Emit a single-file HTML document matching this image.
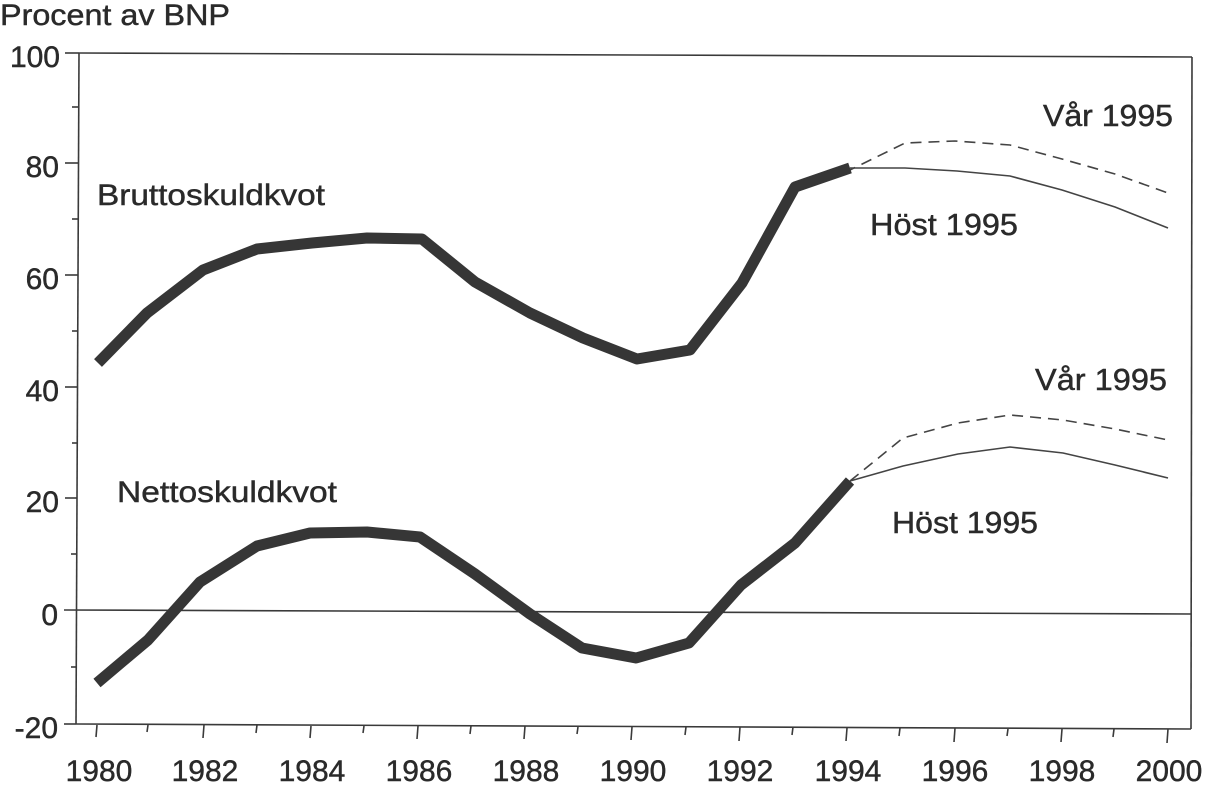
<!DOCTYPE html>
<html>
<head>
<meta charset="utf-8">
<style>
  html,body{margin:0;padding:0;background:#fff;}
  svg{display:block;}
  text{font-family:"Liberation Sans",Arial,sans-serif;fill:#2a2a2a;stroke:#2a2a2a;stroke-width:0.45;}
</style>
</head>
<body>
<svg width="1205" height="786" viewBox="0 0 1205 786" xmlns="http://www.w3.org/2000/svg">
  <rect width="1205" height="786" fill="#fff"/>
  <!-- title -->
  <text x="0" y="25" font-size="30" textLength="230" lengthAdjust="spacingAndGlyphs">Procent av BNP</text>

  <!-- frame -->
  <g stroke="#3a3a3a" stroke-width="1.6" fill="none">
    <line x1="79" y1="53" x2="1192" y2="57"/>
    <line x1="1192" y1="57" x2="1191" y2="729"/>
    <line x1="76" y1="724" x2="1191" y2="729"/>
    <line x1="79" y1="53" x2="76" y2="724"/>
    <!-- zero line -->
    <line x1="64" y1="610" x2="1191" y2="614"/>
    <!-- y major ticks -->
    <line x1="65" y1="53" x2="79" y2="53"/>
    <line x1="65" y1="163" x2="79" y2="163"/>
    <line x1="65" y1="275" x2="78" y2="275"/>
    <line x1="65" y1="387" x2="78" y2="387"/>
    <line x1="65" y1="498" x2="77" y2="498"/>
    <line x1="64" y1="724" x2="76" y2="724"/>
    <!-- y minor ticks -->
    <line x1="72" y1="107" x2="79" y2="107"/>
    <line x1="72" y1="219" x2="78" y2="219"/>
    <line x1="72" y1="331" x2="78" y2="331"/>
    <line x1="72" y1="443" x2="78" y2="443"/>
    <line x1="71" y1="554" x2="77" y2="554"/>
    <line x1="71" y1="667" x2="77" y2="667"/>
    <!-- x major ticks -->
    <line x1="97" y1="725" x2="96" y2="737"/>
    <line x1="204" y1="725" x2="203" y2="738"/>
    <line x1="311" y1="726" x2="310" y2="738"/>
    <line x1="418" y1="726" x2="417" y2="739"/>
    <line x1="525" y1="726" x2="524" y2="739"/>
    <line x1="632" y1="727" x2="631" y2="740"/>
    <line x1="740" y1="727" x2="739" y2="741"/>
    <line x1="847" y1="728" x2="846" y2="741"/>
    <line x1="955" y1="728" x2="954" y2="742"/>
    <line x1="1062" y1="729" x2="1061" y2="742"/>
    <line x1="1168" y1="729" x2="1167" y2="743"/>
    <!-- x minor ticks -->
    <line x1="148" y1="725" x2="147" y2="732"/>
    <line x1="257" y1="725" x2="256" y2="733"/>
    <line x1="364" y1="726" x2="363" y2="733"/>
    <line x1="471" y1="726" x2="470" y2="734"/>
    <line x1="578" y1="727" x2="577" y2="734"/>
    <line x1="686" y1="727" x2="685" y2="735"/>
    <line x1="793" y1="727" x2="792" y2="735"/>
    <line x1="900" y1="728" x2="899" y2="736"/>
    <line x1="1008" y1="729" x2="1007" y2="736"/>
    <line x1="1114" y1="729" x2="1113" y2="737"/>
  </g>

  <!-- y labels -->
  <g font-size="30" text-anchor="end">
    <text x="60" y="67">100</text>
    <text x="59" y="177">80</text>
    <text x="59" y="289">60</text>
    <text x="59" y="401">40</text>
    <text x="59" y="512">20</text>
    <text x="58" y="625">0</text>
    <text x="58" y="738">-20</text>
  </g>

  <!-- x labels -->
  <g font-size="30" text-anchor="middle">
    <text x="99" y="781">1980</text>
    <text x="205" y="781">1982</text>
    <text x="312" y="781">1984</text>
    <text x="419" y="781">1986</text>
    <text x="526" y="781">1988</text>
    <text x="633" y="781">1990</text>
    <text x="740" y="781">1992</text>
    <text x="848" y="781">1994</text>
    <text x="955" y="781">1996</text>
    <text x="1062" y="781">1998</text>
    <text x="1169" y="781">2000</text>
  </g>

  <!-- projection lines (upper) -->
  <polyline fill="none" stroke="#444" stroke-width="1.6" stroke-dasharray="11,7"
    points="795,192 850,170 905,143 955,141 1010,145 1062,159 1115,174 1168,193"/>
  <polyline fill="none" stroke="#444" stroke-width="1.6"
    points="850,168 905,168 957,171 1010,176 1062,190 1115,207 1168,228"/>

  <!-- projection lines (lower) -->
  <polyline fill="none" stroke="#444" stroke-width="1.6" stroke-dasharray="11,7"
    points="850,481 903,438 958,423 1010,415 1063,420 1115,429 1168,440"/>
  <polyline fill="none" stroke="#444" stroke-width="1.6"
    points="850,481 903,466 958,454 1010,447 1063,453 1115,465 1168,478"/>

  <!-- thick historical lines -->
  <polyline fill="none" stroke="#363636" stroke-width="11" stroke-linejoin="round"
    points="98,363 147,313 203,270 257,249 312,243 367,238 422,239 475,282 530,313 583,338 637,359 690,350 742,283 795,187 850,168"/>
  <polyline fill="none" stroke="#363636" stroke-width="11" stroke-linejoin="round"
    points="97,683 148,640 200,582 257,546 310,533 367,532 420,537 475,574 530,614 582,648 636,658 689,643 741,585 795,543 850,481"/>

  <!-- series labels -->
  <text x="97" y="205" font-size="30" textLength="228" lengthAdjust="spacingAndGlyphs">Bruttoskuldkvot</text>
  <text x="117" y="502" font-size="30" textLength="220" lengthAdjust="spacingAndGlyphs">Nettoskuldkvot</text>
  <text x="1043" y="126" font-size="31" textLength="130" lengthAdjust="spacingAndGlyphs">Vår 1995</text>
  <text x="870" y="235" font-size="31" textLength="148" lengthAdjust="spacingAndGlyphs">Höst 1995</text>
  <text x="1035" y="390" font-size="31" textLength="132" lengthAdjust="spacingAndGlyphs">Vår 1995</text>
  <text x="892" y="533" font-size="31" textLength="146" lengthAdjust="spacingAndGlyphs">Höst 1995</text>
</svg>
</body>
</html>
